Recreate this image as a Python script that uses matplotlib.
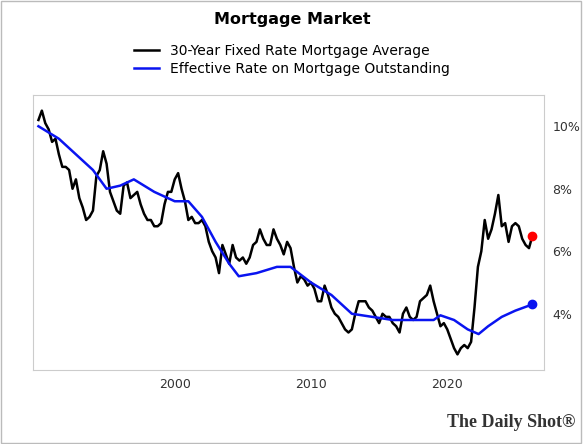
import matplotlib
matplotlib.use("Agg")
import matplotlib.pyplot as plt
import numpy as np

# 30-year fixed rate, quarterly estimates from 1990 Q1
fixed_start = 1990.0
fixed_rate = [
    10.2, 10.5, 10.1, 9.9, 9.5, 9.6, 9.1, 8.7, 8.7, 8.6, 8.0, 8.3,
    7.7, 7.4, 7.0, 7.1, 7.3, 8.4, 8.6, 9.2, 8.8, 7.9, 7.6, 7.3,
    7.2, 8.1, 8.2, 7.7, 7.8, 7.9, 7.5, 7.2, 7.0, 7.0, 6.8, 6.8,
    6.9, 7.5, 7.9, 7.9, 8.3, 8.5, 8.0, 7.6, 7.0, 7.1, 6.9, 6.9,
    7.0, 6.8, 6.3, 6.0, 5.8, 5.3, 6.2, 5.9, 5.6, 6.2, 5.8, 5.7,
    5.8, 5.6, 5.8, 6.2, 6.3, 6.7, 6.4, 6.2, 6.2, 6.7, 6.4, 6.2,
    5.9, 6.3, 6.1, 5.5, 5.0, 5.2, 5.1, 4.9, 5.0, 4.8, 4.4, 4.4,
    4.9, 4.6, 4.2, 4.0, 3.9, 3.7, 3.5, 3.4, 3.5, 4.0, 4.4, 4.4,
    4.4, 4.2, 4.1, 3.9, 3.7, 4.0, 3.9, 3.9, 3.7, 3.6, 3.4, 4.0,
    4.2, 3.9, 3.8, 3.9, 4.4, 4.5, 4.6, 4.9, 4.4, 4.0, 3.6, 3.7,
    3.5, 3.2, 2.9, 2.7, 2.9, 3.0, 2.9, 3.1, 4.2, 5.5, 6.0, 7.0,
    6.4, 6.7, 7.2, 7.8, 6.8, 6.9, 6.3, 6.8, 6.9, 6.8, 6.4, 6.2,
    6.1, 6.5,
]

# effective rate on mortgage outstanding
eff_years = [1990.0, 1991.5, 1993.0, 1994.0, 1995.0, 1996.0, 1997.0, 1998.5, 2000.0, 2001.0,
             2002.0, 2003.0, 2004.0, 2004.7, 2006.0, 2007.5, 2008.5, 2010.0, 2011.5, 2013.0,
             2016.0, 2019.0, 2019.5, 2020.5, 2021.5, 2022.3, 2023.0, 2024.0, 2025.0, 2026.25]
eff_rate = [10.0, 9.6, 9.0, 8.6, 8.0, 8.1, 8.3, 7.9, 7.6, 7.6,
            7.1, 6.3, 5.6, 5.2, 5.3, 5.5, 5.5, 5.0, 4.6, 4.0,
            3.8, 3.8, 3.95, 3.8, 3.5, 3.35, 3.6, 3.9, 4.1, 4.3]

fixed_years = fixed_start + np.arange(len(fixed_rate)) * 0.25

fig = plt.figure(figsize=(5.84, 4.44), dpi=100)
ax = fig.add_axes([33 / 584, 1 - 370 / 444, (544 - 33) / 584, (370 - 95) / 444])

ax.plot(fixed_years, fixed_rate, color="black", lw=1.8, label="30-Year Fixed Rate Mortgage Average")
ax.plot(eff_years, eff_rate, color="#0a14f0", lw=1.8, label="Effective Rate on Mortgage Outstanding")
ax.plot(fixed_years[-1], fixed_rate[-1], "o", color="red", ms=6)
ax.plot(eff_years[-1], eff_rate[-1], "o", color="#0a14f0", ms=6)

ax.set_xlim(1989.6, 2027.1)
ax.set_ylim(2.2, 11.0)
ax.set_xticks([2000, 2010, 2020])
ax.set_yticks([4, 6, 8, 10])
ax.set_yticklabels(["4%", "6%", "8%", "10%"])
ax.yaxis.tick_right()
ax.tick_params(length=0, labelsize=9, colors="#333333", pad=6)
for spine in ax.spines.values():
    spine.set_color("#cccccc")

fig.text(0.5, 0.955, "Mortgage Market", ha="center", va="center", fontsize=11.5, fontweight="bold")
fig.legend(loc="upper center", bbox_to_anchor=(0.5, 0.93), frameon=False, fontsize=10,
           handlelength=1.8, labelspacing=0.3)
fig.text(0.985, 0.03, "The Daily Shot\u00ae", ha="right", va="bottom", fontsize=13,
         family="Liberation Serif", fontweight="bold", color="#333333")

border = plt.Rectangle((0.002, 0.002), 0.993, 0.995, transform=fig.transFigure,
                       fill=False, edgecolor="#bbbbbb", lw=1)
fig.patches.append(border)

fig.savefig("out.png", dpi=100)
